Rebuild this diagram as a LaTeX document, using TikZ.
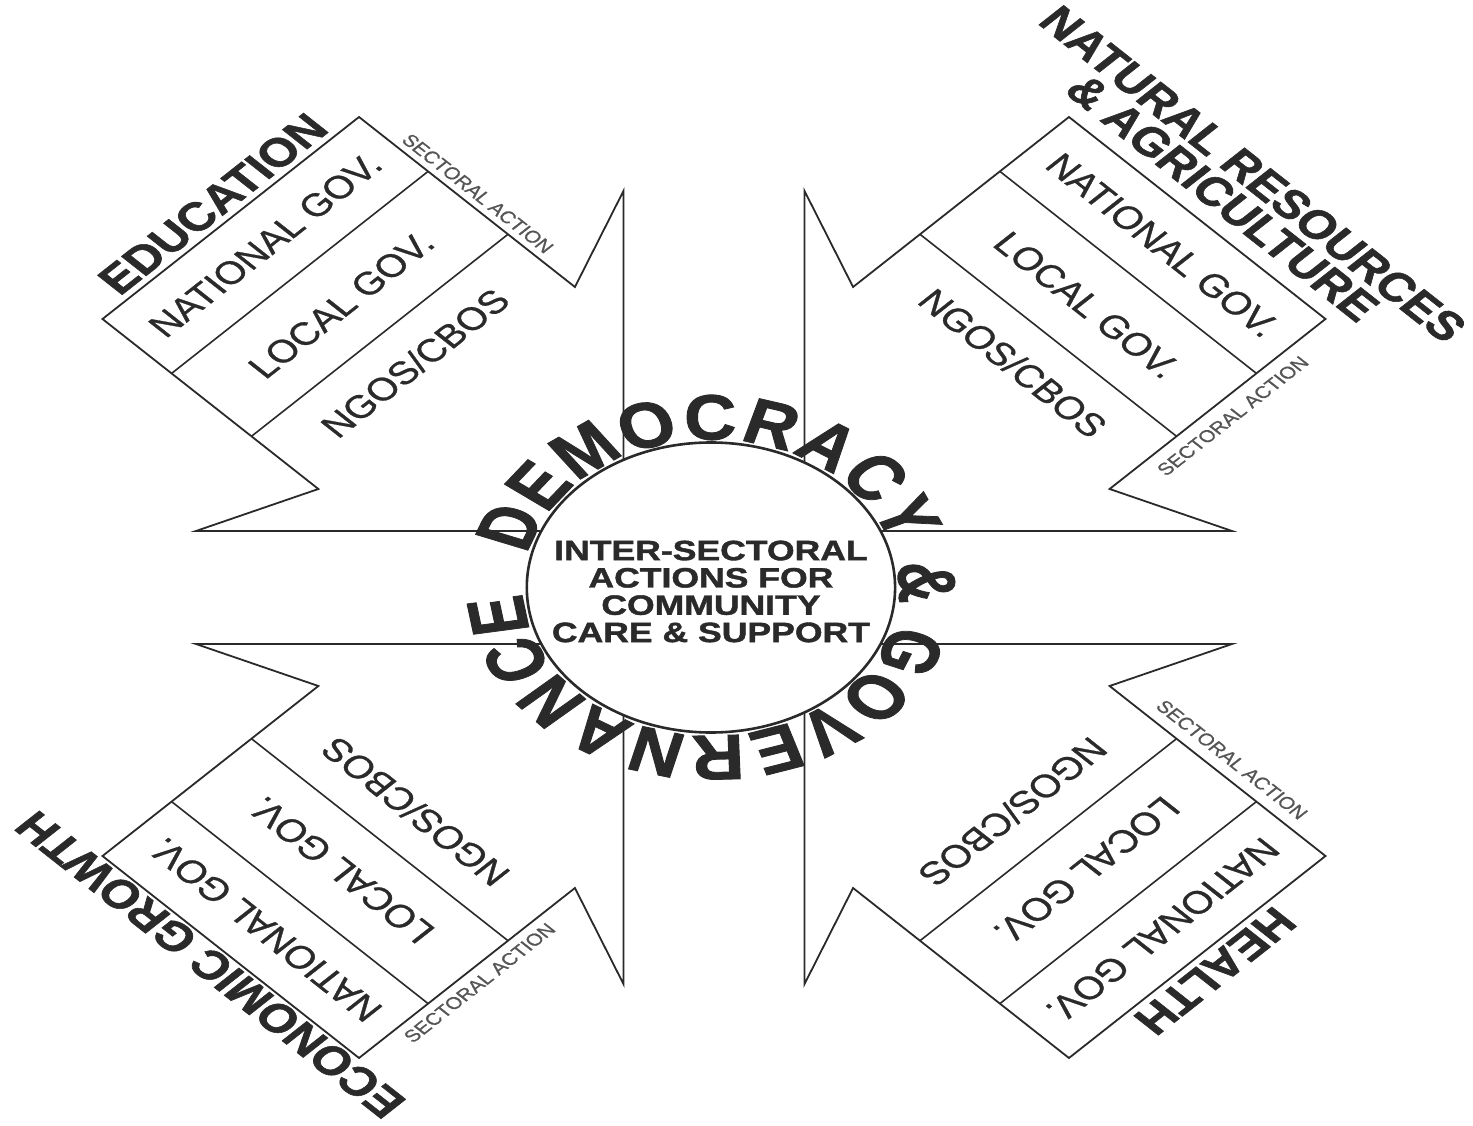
\documentclass[tikz,border=0pt]{standalone}
\usepackage{fontspec}
\setmainfont{Liberation Sans}[UprightFeatures={FakeBold=0.8}, BoldFeatures={FakeBold=1.3}]
\definecolor{ink}{HTML}{2A2A2A}
\newcommand\lbl[6]{\begin{scope}[shift={(#1,#2)},rotate=#3]\node[#4] (#5) at (0,0) {#6};\end{scope}}
\begin{document}
\begin{tikzpicture}[x=1pt,y=1pt,
  outline/.style={draw=ink, line width=1.8pt, line join=miter},
  divider/.style={draw=ink, line width=1.6pt},
  hub/.style={draw=ink, line width=2.6pt, fill=white},
  titletxt/.style={font=\fontsize{40}{34}\selectfont\bfseries, text=ink, inner sep=0pt, align=center, transform shape},
  actortxt/.style={font=\fontsize{32}{32}\selectfont, text=ink, inner sep=0pt, transform shape},
  sectxt/.style={font=\fontsize{17}{17}\selectfont, text=ink!80, inner sep=0pt, transform shape},
  centertxt/.style={font=\fontsize{28}{27.3}\selectfont\bfseries, text=ink, inner sep=0pt, align=center, transform shape},
  ringtxt/.style={font=\fontsize{64}{64}\selectfont\bfseries, text=ink, inner sep=0pt, anchor=base, transform shape}
]
\useasboundingbox (-714,-537.5) rectangle (759,587.5);
\begin{scope}[xscale=1.27]
  \foreach \sx/\sy in {1/1,-1/1,1/-1,-1/-1}{
    \begin{scope}[xscale=\sx,yscale=\sy]
      \draw[outline] (0,56.5) -- (-407.9,56.5) -- (-311.5,98.5) -- (-481.5,268.5) -- (-279.5,470.5) -- (-109.5,300.5) -- (-71.3,396.5) -- (-71.3,0);
      \draw[divider] (-427.1,214.1) -- (-225.1,416.1);
      \draw[divider] (-364.2,151.2) -- (-162.2,353.2);
    \end{scope}
  }
  \draw[hub] (-2.4,0) circle[radius=145];
  \node[centertxt] (hubtext) at (-2.4,-4) {INTER-SECTORAL\\ACTIONS FOR\\COMMUNITY\\CARE \& SUPPORT};
  % ring text
  \gdef\cumlen{0}
  \begin{scope}[shift={(-2.4,0)}]
  \foreach \ch/\w [count=\i] in {D/.722,E/.667,M/.833,O/.778,C/.722,R/.722,A/.722,C/.722,Y/.667,{}/.278,\&/.722,{}/.278,G/.778,O/.778,V/.667,E/.667,R/.722,N/.722,A/.722,N/.722,C/.722,E/.667}{
    \pgfmathsetmacro\midp{\cumlen + \w*57/2}
    \pgfmathsetmacro\ang{167 - \midp/148*57.29578}
    \begin{scope}[shift={(\ang:148)}, rotate=\ang-90, xscale=0.89]
      \node[ringtxt] (ring\i) at (0,0) {\ch};
    \end{scope}
    \pgfmathsetmacro\nx{\cumlen + \w*57 + 1.7}
    \xdef\cumlen{\nx}
  }
  \end{scope}
  % top-left
  \lbl{-394.6}{383.6}{45}{titletxt}{edu}{EDUCATION}
  \lbl{-353.3}{342.3}{45}{actortxt}{edunat}{NATIONAL GOV.}
  \lbl{-293.5}{282.5}{45}{actortxt}{eduloc}{LOCAL GOV.}
  \lbl{-235.5}{224.5}{45}{actortxt}{edungo}{NGOS/CBOS}
  \lbl{-186}{394}{-45}{sectxt}{edusec}{SECTORAL ACTION}
  % top-right
  \lbl{412.5}{401.5}{-45}{titletxt}{nra}{NATURAL RESOURCES\\\& AGRICULTURE}
  \lbl{353.3}{342.3}{-45}{actortxt}{nranat}{NATIONAL GOV.}
  \lbl{293.5}{282.5}{-45}{actortxt}{nraloc}{LOCAL GOV.}
  \lbl{235.5}{224.5}{-45}{actortxt}{nrango}{NGOS/CBOS}
  \lbl{408.5}{171.5}{45}{sectxt}{nrasec}{SECTORAL ACTION}
  % bottom-left
  \lbl{-396.7}{-377.3}{135}{titletxt}{eco}{ECONOMIC GROWTH}
  \lbl{-353.3}{-342.3}{135}{actortxt}{economicnat}{NATIONAL GOV.}
  \lbl{-293.5}{-282.5}{135}{actortxt}{economicloc}{LOCAL GOV.}
  \lbl{-235.5}{-224.5}{135}{actortxt}{economicngo}{NGOS/CBOS}
  \lbl{-184.6}{-395.4}{45}{sectxt}{ecosec}{SECTORAL ACTION}
  % bottom-right
  \lbl{394.6}{-383.6}{-135}{titletxt}{hea}{HEALTH}
  \lbl{353.3}{-342.3}{-135}{actortxt}{heanat}{NATIONAL GOV.}
  \lbl{293.5}{-282.5}{-135}{actortxt}{healoc}{LOCAL GOV.}
  \lbl{235.5}{-224.5}{-135}{actortxt}{heango}{NGOS/CBOS}
  \lbl{407.8}{-172.2}{-45}{sectxt}{heasec}{SECTORAL ACTION}
\end{scope}
\end{tikzpicture}
\end{document}
